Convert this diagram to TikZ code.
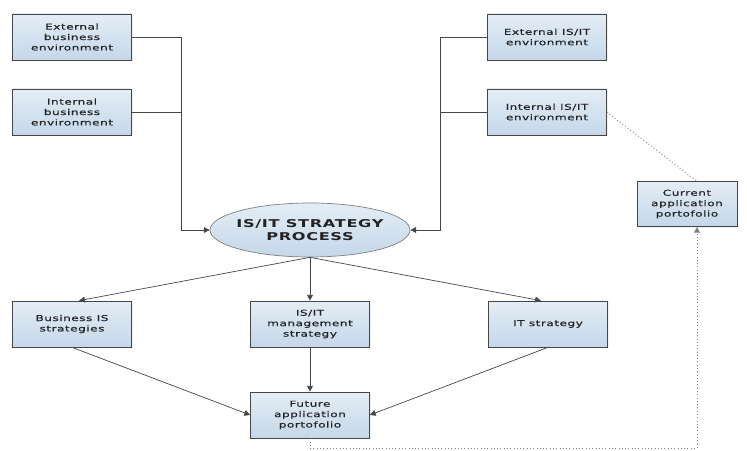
\documentclass[tikz,border=0pt]{standalone}
\usepackage{fontspec}
\usetikzlibrary{shapes.geometric,arrows.meta,shadows}
\newfontfamily\boxfont[FakeStretch=1.5,LetterSpace=6,FakeBold=0.35]{DejaVu Sans}
\newfontfamily\procfont[FakeStretch=1.5,LetterSpace=6]{DejaVu Sans Bold}
\definecolor{boxtop}{RGB}{228,237,245}
\definecolor{boxbot}{RGB}{196,215,233}
\definecolor{edgegray}{RGB}{70,70,70}
\definecolor{txtgray}{RGB}{35,35,35}

\begin{document}
\begin{tikzpicture}[x=0.03cm,y=-0.03cm,
        box/.style = {draw=edgegray, semithick, top color=boxtop, bottom color=boxbot,
          minimum width=3.57cm, minimum height=1.38cm, inner sep=1pt, align=center,
          font=\boxfont\fontsize{6.9}{8.9}\selectfont, text=txtgray,
          drop shadow={opacity=0.12, shadow xshift=1pt, shadow yshift=-1pt}},
        proc/.style = {draw=gray, semithick, ellipse, top color=boxtop, bottom color=boxbot,
          minimum width=6cm, minimum height=1.62cm, inner xsep=-3pt, inner ysep=0pt, align=center,
          font=\procfont\fontsize{9.2}{11}\selectfont, text=txtgray},
        line/.style = {draw=edgegray, semithick},
        arr/.style = {line, -{Triangle[length=5pt,width=5pt]}},
        dots/.style = {draw=gray, thick, dotted}]
        \useasboundingbox (0,0) rectangle (747,451);

        \node[box](ebe) at (72,37){External\\business\\environment};
        \node[box](ibe) at (72,112){Internal\\business\\environment};
        \node[box](eit) at (547,37){External IS/IT\\environment};
        \node[box](iit) at (547,112){Internal IS/IT\\environment};
        \node[proc](proc) at (310,230){IS/IT STRATEGY\\PROCESS};
        \node[box](bis) at (72,324){Business IS\\strategies};
        \node[box](mgt) at (310,324){IS/IT\\management\\strategy};
        \node[box](its) at (548,324){IT strategy};
        \node[box](fut) at (310,415){Future\\application\\portofolio};
        \node[box, minimum width=3cm, minimum height=1.35cm](cur) at (687,204){Current\\application\\portofolio};

        \coordinate (lj) at (181,230);
        \coordinate (rj) at (440,230);
        \coordinate (dj) at (697,448);

        % inputs to the process
        \draw[arr] (ebe.east) -| (lj) -- (proc.west);
        \draw[line] (ibe.east) -- (ibe.east -| lj);
        \draw[arr] (eit.west) -| (rj) -- (proc.east);
        \draw[line] (iit.west) -- (iit.west -| rj);

        \path
        (proc.south) edge[arr] ([xshift=6]bis.north)
        (proc.south) edge[arr, thick] (mgt.north)
        (proc.south) edge[arr] ([xshift=-6]its.north)
        (bis.south) edge[arr] (fut.west)
        (mgt.south) edge[arr, thick] (fut.north)
        (its.south) edge[arr] (fut.east)
        ;

        % current portfolio links
        \draw[dots] (iit.east) -- (dj |- cur.north);
        \draw[dots, -{Triangle[length=5pt,width=5pt]}] (fut.south) |- (dj) -- (dj |- cur.south);
      \end{tikzpicture}
\end{document}
